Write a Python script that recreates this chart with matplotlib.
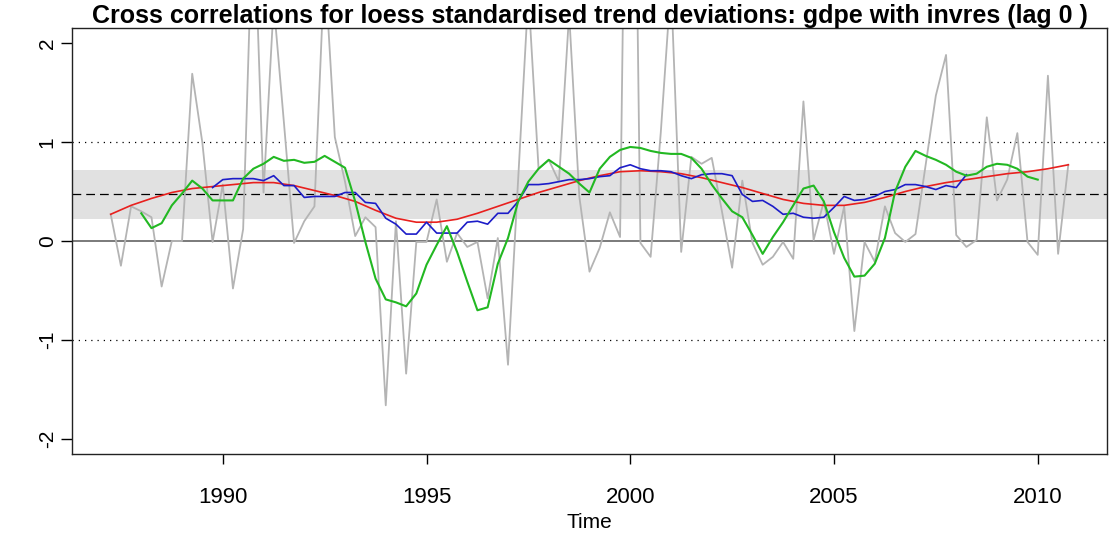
import numpy as np
import matplotlib.pyplot as plt

plt.rcParams['font.family'] = ['Liberation Sans', 'DejaVu Sans']

# quarterly standardised trend deviations, 1987Q2 .. 2010Q4
start = 1987.25
devs = [0.27, -0.25, 0.35, 0.30, 0.24, -0.46, 0.00, 0.00, 1.69, 0.99,
        -0.01, 0.57, -0.48, 0.12, 3.50, 0.49, 2.40, 1.20, -0.02, 0.20,
        0.35, 2.80, 1.05, 0.60, 0.05, 0.24, 0.14, -1.66, 0.20, -1.34,
        -0.01, -0.01, 0.42, -0.21, 0.08, -0.06, -0.01, -0.58, 0.03, -1.25,
        0.63, 2.50, 0.73, 0.82, 0.60, 2.30, 0.45, -0.31, -0.07, 0.29,
        0.04, 8.00, -0.02, -0.16, 1.10, 2.60, -0.11, 0.85, 0.78, 0.84,
        0.30, -0.27, 0.61, -0.02, -0.24, -0.16, -0.01, -0.18, 1.41, 0.01,
        0.40, -0.13, 0.35, -0.91, -0.01, -0.21, 0.35, 0.08, -0.01, 0.07,
        0.77, 1.47, 1.88, 0.06, -0.06, 0.01, 1.25, 0.41, 0.62, 1.09,
        -0.01, -0.14, 1.67, -0.13, 0.77]

# short moving average, 1988Q1 .. 2010Q1
short_start = 1988.0
short_ma = [0.28, 0.13, 0.18, 0.36, 0.48, 0.61, 0.53, 0.41, 0.41, 0.41,
            0.63, 0.73, 0.78, 0.85, 0.81, 0.82, 0.79, 0.80, 0.86, 0.80,
            0.74, 0.40, -0.01, -0.38, -0.59, -0.62, -0.66, -0.53, -0.24, -0.04,
            0.15, -0.11, -0.41, -0.70, -0.67, -0.23, 0.03, 0.40, 0.60, 0.73,
            0.82, 0.75, 0.68, 0.58, 0.49, 0.73, 0.85, 0.92, 0.95, 0.94,
            0.91, 0.89, 0.88, 0.88, 0.84, 0.73, 0.57, 0.43, 0.30, 0.24,
            0.06, -0.13, 0.04, 0.19, 0.36, 0.53, 0.56, 0.40, 0.09, -0.17,
            -0.36, -0.35, -0.23, 0.03, 0.50, 0.75, 0.91, 0.86, 0.82, 0.77,
            0.70, 0.66, 0.68, 0.75, 0.78, 0.77, 0.73, 0.65, 0.62]

# long moving average, 1989Q4 .. 2008Q2
long_start = 1989.75
long_ma = [0.54, 0.62, 0.63, 0.63, 0.63, 0.61, 0.66, 0.56, 0.56, 0.44,
           0.45, 0.45, 0.45, 0.49, 0.49, 0.39, 0.38, 0.23, 0.17, 0.07,
           0.07, 0.19, 0.08, 0.08, 0.08, 0.19, 0.20, 0.17, 0.28, 0.28,
           0.40, 0.57, 0.57, 0.58, 0.60, 0.62, 0.62, 0.63, 0.65, 0.66,
           0.74, 0.77, 0.73, 0.71, 0.71, 0.70, 0.66, 0.63, 0.67, 0.68,
           0.68, 0.66, 0.47, 0.40, 0.41, 0.35, 0.27, 0.28, 0.24, 0.23,
           0.24, 0.34, 0.45, 0.41, 0.42, 0.45, 0.50, 0.52, 0.57, 0.57,
           0.55, 0.52, 0.56, 0.54, 0.67]

# loess fit, half-yearly from 1987Q2
loess_fit = [0.27, 0.36, 0.43, 0.49, 0.53, 0.55, 0.57, 0.59, 0.59, 0.56,
             0.51, 0.46, 0.40, 0.31, 0.23, 0.19, 0.19, 0.22, 0.28, 0.35,
             0.42, 0.49, 0.55, 0.61, 0.66, 0.70, 0.71, 0.70, 0.68, 0.64,
             0.59, 0.54, 0.48, 0.42, 0.38, 0.36, 0.36, 0.39, 0.44, 0.50,
             0.55, 0.59, 0.62, 0.65, 0.68, 0.70, 0.73, 0.77]

mean_corr = 0.47
band_lo, band_hi = 0.22, 0.72
yticks = [-2, -1, 0, 1, 2]
xticks = [1990, 1995, 2000, 2005, 2010]

t_dev = start + 0.25 * np.arange(len(devs))
t_short = short_start + 0.25 * np.arange(len(short_ma))
t_long = long_start + 0.25 * np.arange(len(long_ma))
t_loess = start + 0.5 * np.arange(len(loess_fit))

fig = plt.figure(figsize=(11.15, 5.34), dpi=100)
ax = fig.add_axes([72 / 1115, 80 / 534, 1035 / 1115, 426 / 534])

ax.axhspan(band_lo, band_hi, color='#e1e1e1', lw=0, zorder=0)
ax.axhline(mean_corr, color='black', lw=0.9, ls=(0, (7, 4)), zorder=1)
ax.axhline(1, color='black', lw=0.9, ls=(0, (1, 4)), zorder=1)
ax.axhline(-1, color='black', lw=0.9, ls=(0, (1, 4)), zorder=1)
ax.axhline(0, color='#7a7a7a', lw=1.4, zorder=1)

ax.plot(t_dev, devs, color='#b4b4b4', lw=1.3, zorder=2)
ax.plot(t_loess, loess_fit, color='#e8201e', lw=1.2, zorder=3)
ax.plot(t_long, long_ma, color='#1c1cc8', lw=1.2, zorder=4)
ax.plot(t_short, short_ma, color='#22b822', lw=1.5, zorder=5)

ax.set_xlim(1986.30, 2011.70)
ax.set_ylim(-2.152, 2.152)

ax.set_xticks(xticks)
ax.set_xticklabels([str(x) for x in xticks], fontsize=16)
ax.set_yticks(yticks)
ax.set_yticklabels([str(y) for y in yticks], fontsize=15, rotation=90,
                   va='center')
ax.tick_params(axis='x', length=7, width=1, pad=17)
ax.tick_params(axis='y', length=8, width=1, pad=3)

for s in ax.spines.values():
    s.set_linewidth(1.0)
    s.set_color('#222222')

ax.set_xlabel('Time', fontsize=15, labelpad=3)
ax.set_title('Cross correlations for loess standardised trend deviations: '
             'gdpe with invres (lag 0 )', fontsize=18, fontweight='bold',
             pad=2)

fig.savefig('out.png', dpi=100)
